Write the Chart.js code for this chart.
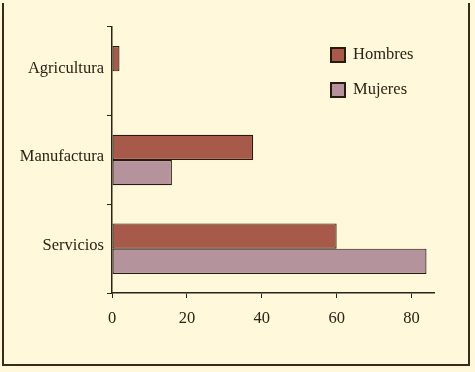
<!DOCTYPE html>
<html>
<head>
<meta charset="utf-8">
<script src="https://cdn.jsdelivr.net/npm/chart.js@4/dist/chart.umd.min.js"></script>
<style>
  html, body { margin: 0; padding: 0; background: #fff8da; }
  #wrap { width: 475px; height: 372px; position: relative; }
</style>
</head>
<body>
<div id="wrap"><canvas id="sectores" width="475" height="372"></canvas></div>
<script>
// sectores y porcentajes
const sectores = ['Agricultura', 'Manufactura', 'Servicios'];
const hombres = [2, 37.7, 60];
const mujeres = [null, 16, 84];
const serieNombres = ['Hombres', 'Mujeres'];
const xTicks = [0, 20, 40, 60, 80];

const ink = '#2e2116';
const font = { family: '"Liberation Serif", "DejaVu Serif", serif', size: 16.5 };

// marco del grafico (sin linea arriba)
const marco = {
  id: 'marco',
  beforeDraw(chart) {
    const ctx = chart.ctx;
    ctx.save();
    ctx.fillStyle = '#fff8da';
    ctx.fillRect(0, 0, chart.width, chart.height);
    ctx.strokeStyle = '#3a2a1a';
    ctx.lineWidth = 2;
    ctx.beginPath();
    ctx.moveTo(3, 3);
    ctx.lineTo(3, 365);
    ctx.lineTo(469, 365);
    ctx.lineTo(469, 3);
    ctx.stroke();
    ctx.restore();
  }
};

// leyenda a mano, dentro del area
const leyenda = {
  id: 'leyenda',
  afterDraw(chart) {
    const ctx = chart.ctx;
    ctx.save();
    chart.data.datasets.forEach((ds, i) => {
      const y = 48 + i * 35;
      ctx.fillStyle = ds.backgroundColor;
      ctx.fillRect(331, y, 14, 14);
      ctx.strokeStyle = '#2a1a10';
      ctx.lineWidth = 2;
      ctx.strokeRect(331, y, 14, 14);
      ctx.fillStyle = ink;
      ctx.font = font.size + 'px ' + font.family;
      ctx.textBaseline = 'middle';
      ctx.fillText(ds.label, 353, y + 7);
    });
    ctx.restore();
  }
};

new Chart(document.getElementById('sectores'), {
  type: 'bar',
  data: {
    labels: sectores,
    datasets: [
      { label: serieNombres[0], data: hombres, backgroundColor: '#a85a4a',
        borderColor: '#2a1a10', borderWidth: 1.2, borderSkipped: false },
      { label: serieNombres[1], data: mujeres, backgroundColor: '#b5939c',
        borderColor: '#2a1a10', borderWidth: 1.2, borderSkipped: false }
    ]
  },
  options: {
    indexAxis: 'y',
    responsive: false,
    animation: false,
    layout: { padding: { left: 0, top: 27, right: 41, bottom: 0 } },
    datasets: {
      bar: { categoryPercentage: 0.57, barPercentage: 1 }
    },
    plugins: {
      legend: { display: false },
      tooltip: { enabled: false }
    },
    scales: {
      x: {
        min: 0,
        max: 86,
        afterFit(scale) { scale.height = 79; },
        afterBuildTicks(scale) { scale.ticks = xTicks.map(v => ({ value: v })); },
        grid: { drawOnChartArea: false, drawTicks: true, tickLength: 5, color: ink },
        border: { color: ink, width: 1.5 },
        ticks: { color: ink, font: font, padding: 11 }
      },
      y: {
        afterFit(scale) { scale.width = 112; },
        grid: { drawOnChartArea: false, drawTicks: true, tickLength: 5, color: ink, offset: true },
        border: { color: ink, width: 1.5 },
        ticks: { color: ink, font: font, padding: 3, labelOffset: -3 }
      }
    }
  },
  plugins: [marco, leyenda]
});
</script>
</body>
</html>
